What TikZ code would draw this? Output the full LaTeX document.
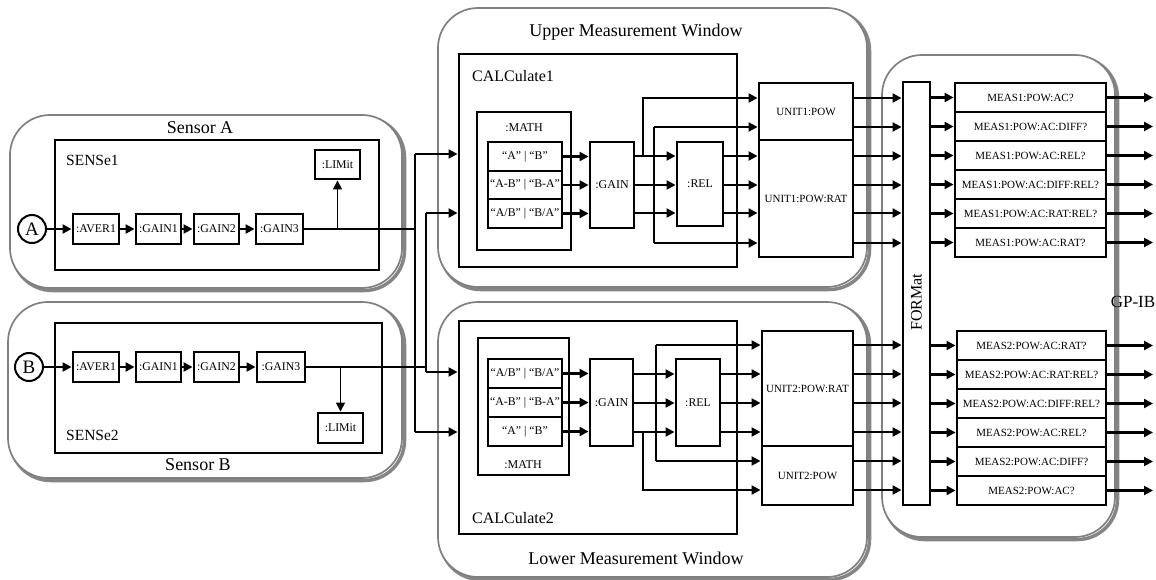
\documentclass[tikz,border=0pt]{standalone}
\usepackage{fontspec}
\setmainfont{Liberation Serif}
\usetikzlibrary{arrows.meta,calc}
\newcommand\myfs[1]{\fontsize{#1}{#1}\selectfont}
\newcommand\mybox[7][]{\node[bx,minimum width={#5pt-#3pt},minimum height={#6pt-#4pt},#1] (#2) at ({(#3+#5)/2},{(#4+#6)/2}) {#7};}
\tikzset{
  bx/.style={draw, line width=2.9pt, inner sep=0pt, align=center, font=\myfs{11.8}},
  win/.style={draw=black!50, line width=1.7pt, rounded corners=40pt, fill=white, font=\myfs{18}},
  shd/.style={draw=black!48, line width=3.5pt, rounded corners=40pt},
  ln/.style={line width=2.1pt},
  arr/.style={line width=2.1pt, -{Triangle[length=9pt,width=9pt]}},
  circ/.style={draw, circle, line width=2pt, minimum size=28pt, inner sep=0pt, font=\myfs{19}},
  ttl/.style={font=\myfs{18}, inner sep=0pt},
  lbl/.style={font=\myfs{16}, inner sep=0pt, anchor=west},
}
\begin{document}
\begin{tikzpicture}[x=1pt,y=-1pt]
\useasboundingbox (0,0) rectangle (1156,580);
% ---------- gray windows ----------
\mybox[shd]{SAs}{12.5}{117.5}{404.5}{290.5}{}
\mybox[win]{SA}{10}{115}{402}{288}{}
\mybox[shd]{SBs}{10.5}{304.5}{404.5}{480.5}{}
\mybox[win]{SB}{8}{302}{402}{478}{}
\mybox[shd]{UWs}{440.5}{10.5}{869.5}{289.5}{}
\mybox[win]{UW}{438}{8}{867}{287}{}
\mybox[shd]{LWs}{440.5}{304.5}{869.5}{579.5}{}
\mybox[win]{LW}{438}{302}{867}{577}{}
\mybox[shd]{GPs}{884.5}{57.5}{1117.5}{539.5}{}
\mybox[win]{GP}{882}{55}{1115}{537}{}
% ---------- titles ----------
\node[ttl] (tSA) at (200,128) {Sensor A};
\node[ttl] (tSB) at (198,465) {Sensor B};
\node[ttl] (tUW) at (636,32) {Upper Measurement Window};
\node[ttl] (tLW) at (636,558) {Lower Measurement Window};
\node[ttl,font=\myfs{17}] (tGP) at (1133,302) {GP-IB};
% ---------- Sensor A ----------
\mybox{S1}{55}{140}{379}{270}{}
\node[lbl,font=\myfs{15.5}] (tS1) at (66,160) {SENSe1};
\mybox{LA}{315}{150}{360}{179}{:LIMit}
\node[circ] (CA) at (32,229) {A};
\mybox{Aa}{73}{214}{119}{244}{:AVER1}
\mybox{Ag1}{136}{214}{181}{244}{:GAIN1}
\mybox{Ag2}{194}{214}{239}{244}{:GAIN2}
\mybox{Ag3}{256}{214}{303}{244}{:GAIN3}
% ---------- Sensor B ----------
\mybox{S2}{55}{323}{382}{453}{}
\node[lbl,font=\myfs{15.5}] (tS2) at (66,435) {SENSe2};
\mybox{LB}{318}{413}{363}{443}{:LIMit}
\node[circ] (CB) at (29,367) {B};
\mybox{Ba}{73}{352}{119}{382}{:AVER1}
\mybox{Bg1}{136}{352}{181}{382}{:GAIN1}
\mybox{Bg2}{194}{352}{239}{382}{:GAIN2}
\mybox{Bg3}{257}{352}{305}{382}{:GAIN3}
% ---------- Upper window ----------
\mybox{C1}{459}{54}{737}{267}{}
\node[lbl] (tC1) at (472,76) {CALCulate1};
\mybox{M1}{477}{112}{571}{250}{}
\node[font=\myfs{12}] (tM1) at (524,128) {:MATH};
\mybox{R1a}{488}{142}{562}{171}{“A” | “B”}
\mybox{R1b}{488}{171}{562}{199}{“A-B” | “B-A”}
\mybox{R1c}{488}{199}{562}{228}{“A/B” | “B/A”}
\mybox[font=\myfs{12}]{G1}{590}{142}{634}{228}{:GAIN}
\mybox{RL1}{677}{142}{723}{226}{:REL}
\mybox[font=\myfs{11}]{U1P}{759}{83}{853}{140}{UNIT1:POW}
\mybox[font=\myfs{11}]{U1R}{759}{140}{853}{257}{\raisebox{-9pt}{UNIT1:POW:RAT}}
% ---------- Lower window ----------
\mybox{C2}{459}{321}{737}{534}{}
\node[lbl] (tC2) at (472,518) {CALCulate2};
\mybox{M2}{478}{338}{569}{475}{}
\node[font=\myfs{12}] (tM2) at (523,465) {:MATH};
\mybox{R2a}{488}{359}{562}{388}{“A/B” | “B/A”}
\mybox{R2b}{488}{388}{562}{417}{“A-B” | “B-A”}
\mybox{R2c}{488}{417}{562}{446}{“A” | “B”}
\mybox[font=\myfs{12}]{G2}{590}{359}{633}{446}{:GAIN}
\mybox{RL2}{676}{359}{720}{446}{:REL}
\mybox[font=\myfs{11}]{U2R}{762}{331}{853}{446}{UNIT2:POW:RAT}
\mybox[font=\myfs{11}]{U2P}{762}{446}{853}{505}{UNIT2:POW}
% ---------- FORMat ----------
\mybox{F}{903}{82}{930}{505}{}
\node[rotate=90,font=\myfs{16}] (tF) at (916.5,302) {FORMat};
% ---------- MEAS boxes ----------
\foreach \n/\t [count=\k from 0] in {1/MEAS1:POW:AC?,2/MEAS1:POW:AC:DIFF?,3/MEAS1:POW:AC:REL?,4/MEAS1:POW:AC:DIFF:REL?,5/MEAS1:POW:AC:RAT:REL?,6/MEAS1:POW:AC:RAT?}{
  \pgfmathsetmacro\ya{83+29*\k}\pgfmathsetmacro\yb{112+29*\k}
  \mybox[font=\myfs{11}]{Ma\n}{955}{\ya}{1106}{\yb}{\t}
}
\foreach \n/\t [count=\k from 0] in {1/MEAS2:POW:AC:RAT?,2/MEAS2:POW:AC:RAT:REL?,3/MEAS2:POW:AC:DIFF:REL?,4/MEAS2:POW:AC:REL?,5/MEAS2:POW:AC:DIFF?,6/MEAS2:POW:AC?}{
  \pgfmathsetmacro\ya{331+29*\k}\pgfmathsetmacro\yb{360+29*\k}
  \mybox[font=\myfs{11}]{Mb\n}{957}{\ya}{1106}{\yb}{\t}
}
% ---------- level coordinates ----------
\foreach \k/\y in {1/98,2/127,3/156,4/185,5/213,6/243}{\coordinate (ly\k) at (0,\y);}
\foreach \k/\y in {1/345,2/374,3/403,4/432,5/461,6/490}{\coordinate (lz\k) at (0,\y);}
\coordinate (oend) at (1153,0);
% ---------- Sensor connectors ----------
\draw[arr] (CA) -- (Aa);
\draw[arr] (Aa) -- (Ag1);
\draw[arr] (Ag1) -- (Ag2);
\draw[arr] (Ag2) -- (Ag3);
\draw[arr] (CB) -- (Ba);
\draw[arr] (Ba) -- (Bg1);
\draw[arr] (Bg1) -- (Bg2);
\draw[arr] (Bg2) -- (Bg3);
\draw[arr,line width=1.5pt] (LA.south |- Ag3.east) -- (LA.south);
\draw[arr,line width=1.5pt] (LB.north |- Bg3.east) -- (LB.north);
\coordinate (jA) at (415,229);
\coordinate (vA1) at (415,154);
\coordinate (vA2) at (415,432);
\draw[ln] (Ag3.east) -- (jA);
\draw[ln] (vA1) -- (vA2);
\draw[arr] (vA1) -- (vA1 -| C1.west);
\draw[arr] (vA2) -- (vA2 -| C2.west);
\coordinate (jB) at (426,367);
\coordinate (vB1) at (426,213);
\coordinate (vB2) at (426,372);
\draw[ln] (Bg3.east) -- (jB);
\draw[ln] (vB1) -- (vB2);
\draw[arr] (vB1) -- (vB1 -| C1.west);
\draw[arr] (vB2) -- (vB2 -| C2.west);
% ---------- Upper window connectors ----------
\foreach \r in {R1a,R1b,R1c}{\draw[arr] (\r.east) -- (\r.east -| G1.west);}
\foreach \k in {3,4,5}{
  \draw[arr] (G1.east |- ly\k) -- (RL1.west |- ly\k);
  \draw[arr] (RL1.east |- ly\k) -- (U1R.west |- ly\k);
}
\coordinate (bu1) at (643,0);
\coordinate (bu2) at (654,0);
\draw[arr] (bu1 |- ly3) -- (bu1 |- ly1) -- (U1P.west |- ly1);
\draw[ln] (bu2 |- ly2) -- (bu2 |- ly6);
\draw[arr] (bu2 |- ly2) -- (U1P.west |- ly2);
\draw[arr] (bu2 |- ly6) -- (U1R.west |- ly6);
\foreach \k in {1,...,6}{\draw[arr] (U1P.east |- ly\k) -- (F.west |- ly\k);}
% ---------- Lower window connectors ----------
\foreach \r in {R2a,R2b,R2c}{\draw[arr] (\r.east) -- (\r.east -| G2.west);}
\foreach \k in {2,3,4}{
  \draw[arr] (G2.east |- lz\k) -- (RL2.west |- lz\k);
  \draw[arr] (RL2.east |- lz\k) -- (U2R.west |- lz\k);
}
\coordinate (bl1) at (643,0);
\coordinate (bl2) at (656,0);
\draw[ln] (bl2 |- lz1) -- (bl2 |- lz5);
\draw[arr] (bl2 |- lz1) -- (U2R.west |- lz1);
\draw[arr] (bl2 |- lz5) -- (U2P.west |- lz5);
\draw[arr] (bl1 |- lz4) -- (bl1 |- lz6) -- (U2P.west |- lz6);
\foreach \k in {1,...,6}{\draw[arr] (U2R.east |- lz\k) -- (F.west |- lz\k);}
% ---------- FORMat to MEAS and outputs ----------
\foreach \n in {1,...,6}{
  \draw[arr] (F.east |- Ma\n.west) -- (Ma\n.west);
  \draw[arr] (Ma\n.east) -- (Ma\n.east -| oend);
  \draw[arr] (F.east |- Mb\n.west) -- (Mb\n.west);
  \draw[arr] (Mb\n.east) -- (Mb\n.east -| oend);
}
\end{tikzpicture}
\end{document}
